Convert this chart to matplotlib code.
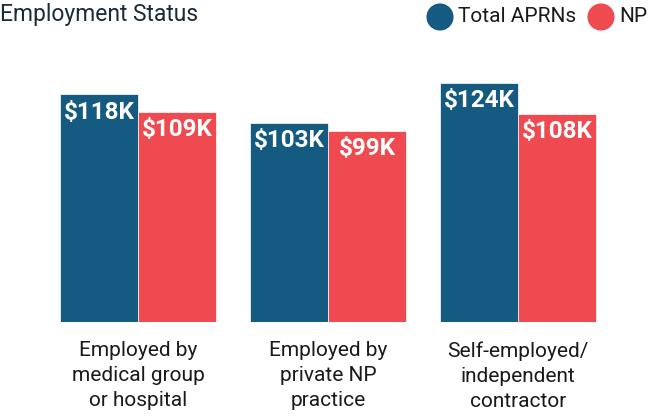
import matplotlib.pyplot as plt
import numpy as np

categories = ["Employed by\nmedical group\nor hospital",
              "Employed by\nprivate NP\npractice",
              "Self-employed/\nindependent\ncontractor"]
series_names = ["Total APRNs", "NP"]
total_aprns = [118, 103, 124]
np_values = [109, 99, 108]

BLUE = "#155a80"
RED = "#ef4a50"
TEXT = "#1a1a1a"

plt.rcParams["font.family"] = ["Roboto", "DejaVu Sans"]

fig = plt.figure(figsize=(6.5, 4.2), dpi=100)

# main axes: bottom of bars at y=322px, full width
ax = fig.add_axes([0, (420 - 322) / 420, 1, 322 / 420])
px_per_unit = 190
center0 = 138
ax.set_xlim(-center0 / px_per_unit, (650 - center0) / px_per_unit)
ax.set_ylim(0, 322 / 1.93)
ax.axis("off")

x = np.arange(len(categories))
w = 78 / px_per_unit
bars_a = ax.bar(x - w / 2, total_aprns, w, color=BLUE, edgecolor="white", linewidth=0.5)
bars_b = ax.bar(x + w / 2, np_values, w, color=RED, edgecolor="white", linewidth=0.5)

for bars in (bars_a, bars_b):
    for b in bars:
        v = b.get_height()
        ax.annotate(f"${v:.0f}K", (b.get_x() + b.get_width() / 2, v),
                    xytext=(0, -4.5), textcoords="offset points",
                    ha="center", va="top", color="white",
                    fontsize=17.5, fontweight="bold")

for xi, label in zip(x, categories):
    ax.annotate(label, (xi, 0), xytext=(0, -14), textcoords="offset points",
                ha="center", va="top", fontsize=15, color=TEXT,
                linespacing=1.4, annotation_clip=False)

# title and legend in pixel space
ov = fig.add_axes([0, 0, 1, 1], zorder=-1)
ov.set_xlim(0, 650)
ov.set_ylim(420, 0)
ov.axis("off")
ov.text(0, 14, "Employment Status", fontsize=16.5, color="#1c2b39", va="center", ha="left")
ov.scatter([440, 601], [17, 17], s=[380, 380], color=[BLUE, RED], linewidths=0)
ov.text(458, 17, series_names[0], fontsize=15, color=TEXT, va="center", ha="left")
ov.text(619, 17, series_names[1], fontsize=15, color=TEXT, va="center", ha="left")

fig.savefig("out.png", dpi=100)
